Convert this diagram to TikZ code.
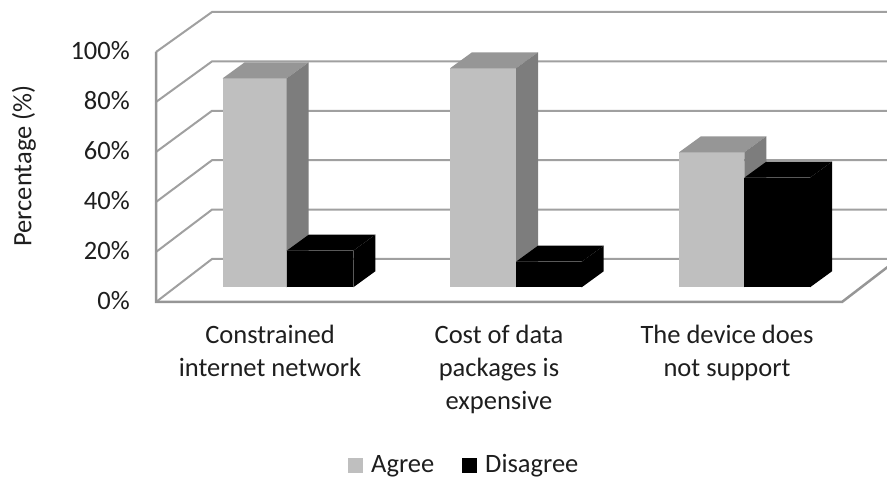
\documentclass[tikz,border=0pt]{standalone}
\usepackage{fontspec}
\setmainfont{Carlito}
\definecolor{gridgray}{RGB}{160,160,160}
\definecolor{axisgray}{RGB}{150,150,150}
\definecolor{agreefront}{RGB}{191,191,191}
\definecolor{agreetop}{RGB}{150,150,150}
\definecolor{agreeside}{RGB}{125,125,125}
\definecolor{txt}{RGB}{30,30,30}

% one 3-D bar: left x, right x, top y, front/top/side colours
% the bar base sits at y = 287.3, depth offset (22,-16)
\newcommand\chartbar[6]{%
  \fill[#4] (#1,287.3) rectangle (#2,#3);
  \fill[#5] (#1,#3) -- (#2,#3) -- ({#2+22},{#3-16}) -- ({#1+22},{#3-16}) -- cycle;
  \fill[#6] (#2,#3) -- ({#2+22},{#3-16}) -- ({#2+22},{287.3-16}) -- (#2,287.3) -- cycle;
}

\begin{document}
\begin{tikzpicture}[x=1pt,y=-1pt,
  gridline/.style={draw=gridgray,line width=2pt},
  axisline/.style={draw=axisgray,line width=2.5pt},
  label/.style={font=\fontsize{26.5}{33}\selectfont,text=txt,inner sep=0pt}]
\useasboundingbox (0,0) rectangle (887,478);
\clip (0,0) rectangle (887,478);

% back wall gridlines with their left-wall diagonals
\foreach \k in {0,...,5}{
  \draw[gridline] (156,{302-\k*50}) -- (212,{259-\k*49.4}) -- (900,{259-\k*49.4});
}
% floor: front edge, right diagonal, left edge
\draw[axisline] (156,52) -- (156,302) -- (842,302) -- (898,259);

% bars: Agree then Disagree for each group
\chartbar{222.7}{286.7}{78.3}{agreefront}{agreetop}{agreeside}
\chartbar{286.7}{353.3}{250.7}{black}{black}{black}
\chartbar{450}{516}{68.3}{agreefront}{agreetop}{agreeside}
\chartbar{516}{581.7}{261.7}{black}{black}{black}
\chartbar{679}{744.3}{152.3}{agreefront}{agreetop}{agreeside}
\chartbar{744.3}{810}{177.7}{black}{black}{black}

% value axis labels
\foreach \k/\v in {0/0,1/20,2/40,3/60,4/80,5/100}{
  \node[label,anchor=base east] (tick\k) at (130,{302-\k*50+8}) {\v\%};
}
\node[label,rotate=90] (ytitle) at (24,166) {Percentage (\%)};

% category labels
\node[label,align=center,anchor=north] (cat1) at (270,324.5) {Constrained\\internet network};
\node[label,align=center,anchor=north] (cat2) at (499,324.5) {Cost of data\\packages is\\expensive};
\node[label,align=center,anchor=north] (cat3) at (727,324.5) {The device does\\not support};

% legend
\fill[agreefront] (348,458) rectangle (363,473);
\node[label,anchor=base west] (legagree) at (371,472) {Agree};
\fill[black] (462,458) rectangle (477,473);
\node[label,anchor=base west] (legdisagree) at (485,472) {Disagree};
\end{tikzpicture}
\end{document}
